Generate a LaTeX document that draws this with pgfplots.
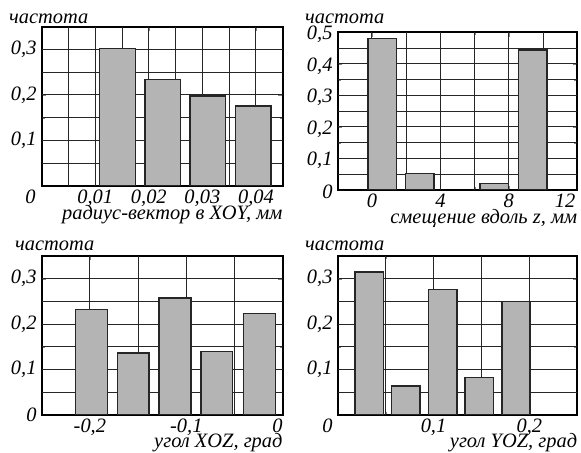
\documentclass[border=0pt]{standalone}
\usepackage{fontspec}
\setmainfont{Liberation Serif}
\usepackage{pgfplots}
\pgfplotsset{compat=1.18}
\definecolor{barfill}{RGB}{180,180,180}
\definecolor{ink}{RGB}{38,38,38}
\newcommand{\lblfont}{\fontsize{20.5}{22}\selectfont\itshape}
\pgfplotsset{
  panelax/.style={
    scale only axis,
    anchor=south west,
    grid=both,
    major grid style={draw=ink, line width=1bp},
    minor grid style={draw=ink, line width=1bp},
    axis line style={line width=1.8bp},
    scaled x ticks=false,
    tick label style={font=\lblfont},
    xticklabel style={anchor=north, inner sep=0pt, yshift=-4bp},
    yticklabel style={anchor=east, inner sep=0pt, xshift=-5bp},
    xlabel style={font=\lblfont, at={(rel axis cs:1,0)}, anchor=base east, inner sep=0pt},
    ylabel style={font=\lblfont, at={(rel axis cs:0,1)}, rotate=-90, anchor=base west, inner sep=0pt},
  },
  gridplot/.style={draw=ink, line width=1bp, mark=none, unbounded coords=jump, forget plot},
  histbar/.style={ybar, bar shift=0pt, fill=barfill, draw=ink, line width=1.5bp},
}
\begin{document}
\begin{tikzpicture}
\useasboundingbox (0,0) rectangle (581bp,453bp);
% top left
\begin{axis}[panelax, at={(41.7bp,267bp)}, width=241bp, height=159.3bp,
  xmin=0, xmax=0.045, ymin=0, ymax=0.35,
  xtick={0,0.01,0.02,0.03,0.04},
  xticklabels={{\llap{0\hspace{6bp}}},{0,01},{0,02},{0,03},{0,04}},
  minor xtick={0.005,0.015,0.025,0.035},
  ytick={0.1,0.2,0.3}, yticklabels={{0,1},{0,2},{0,3}},
  minor ytick={0.05,0.15,0.25},
  xlabel={радиус-вектор в XOY, мм}, ylabel={частота},
  xlabel style={yshift=-34bp}, ylabel style={xshift=-32.7bp, yshift=2.7bp}]
\addplot[gridplot] coordinates {(0.005,0) (0.005,0.35) (nan,nan) (0.01,0) (0.01,0.35) (nan,nan)
  (0.015,0) (0.015,0.35) (nan,nan) (0.02,0) (0.02,0.35) (nan,nan) (0.025,0) (0.025,0.35) (nan,nan)
  (0.03,0) (0.03,0.35) (nan,nan) (0.035,0) (0.035,0.35) (nan,nan) (0.04,0) (0.04,0.35)};
\addplot[gridplot] coordinates {(0,0.05) (0.045,0.05) (nan,nan) (0,0.1) (0.045,0.1) (nan,nan)
  (0,0.15) (0.045,0.15) (nan,nan) (0,0.2) (0.045,0.2) (nan,nan) (0,0.25) (0.045,0.25) (nan,nan)
  (0,0.3) (0.045,0.3)};
\addplot[histbar, bar width=0.00667] coordinates {(0.01415,0.302) (0.0226,0.234) (0.031,0.198) (0.0395,0.176)};
\end{axis}
% top right
\begin{axis}[panelax, at={(337.7bp,263bp)}, width=239.6bp, height=157.7bp,
  xmin=-2, xmax=12, ymin=0, ymax=0.5,
  xtick={0,4,8,12}, xticklabels={0,4,8,{\llap{12\hspace{2bp}}}},
  minor xtick={-2,2,6,10},
  ytick={0,0.1,0.2,0.3,0.4,0.5}, yticklabels={{0},{0,1},{0,2},{0,3},{0,4},{0,5}},
  minor ytick={0.05,0.15,0.25,0.35,0.45},
  yticklabel style={yshift=-2bp},
  xlabel={смещение вдоль z, мм}, ylabel={частота},
  xlabel style={yshift=-34bp}, ylabel style={xshift=-32.7bp, yshift=9bp}]
\addplot[gridplot] coordinates {(0,0) (0,0.5) (nan,nan) (2,0) (2,0.5) (nan,nan) (4,0) (4,0.5) (nan,nan)
  (6,0) (6,0.5) (nan,nan) (8,0) (8,0.5) (nan,nan) (10,0) (10,0.5)};
\addplot[gridplot] coordinates {(-2,0.05) (12,0.05) (nan,nan) (-2,0.1) (12,0.1) (nan,nan)
  (-2,0.15) (12,0.15) (nan,nan) (-2,0.2) (12,0.2) (nan,nan) (-2,0.25) (12,0.25) (nan,nan)
  (-2,0.3) (12,0.3) (nan,nan) (-2,0.35) (12,0.35) (nan,nan) (-2,0.4) (12,0.4) (nan,nan)
  (-2,0.45) (12,0.45)};
\addplot[histbar, bar width=1.68] coordinates {(0.6,0.481) (2.8,0.052) (7.14,0.021) (9.4,0.444)};
\end{axis}
% bottom left
\begin{axis}[panelax, at={(41.7bp,38bp)}, width=241bp, height=159bp,
  xmin=-0.25, xmax=0, ymin=0, ymax=0.35,
  xtick={-0.2,-0.1,0}, xticklabels={{-0,2},{-0,1},{\llap{0}}},
  minor xtick={-0.15,-0.05},
  ytick={0,0.1,0.2,0.3}, yticklabels={{0},{0,1},{0,2},{0,3}},
  minor ytick={0.05,0.15,0.25},
  xlabel={угол XOZ, град}, ylabel={частота},
  xlabel style={yshift=-32bp}, ylabel style={xshift=-26.7bp, yshift=6bp}]
\addplot[gridplot] coordinates {(-0.2,0) (-0.2,0.35) (nan,nan) (-0.15,0) (-0.15,0.35) (nan,nan)
  (-0.1,0) (-0.1,0.35) (nan,nan) (-0.05,0) (-0.05,0.35)};
\addplot[gridplot] coordinates {(-0.25,0.05) (0,0.05) (nan,nan) (-0.25,0.1) (0,0.1) (nan,nan)
  (-0.25,0.15) (0,0.15) (nan,nan) (-0.25,0.2) (0,0.2) (nan,nan) (-0.25,0.25) (0,0.25) (nan,nan)
  (-0.25,0.3) (0,0.3)};
\addplot[histbar, bar width=0.033] coordinates {(-0.1985,0.232) (-0.155,0.137) (-0.1116,0.258) (-0.0685,0.140) (-0.0242,0.223)};
\end{axis}
% bottom right
\begin{axis}[panelax, at={(337.7bp,38bp)}, width=239.6bp, height=159bp,
  xmin=0, xmax=0.25, ymin=0, ymax=0.35,
  xtick={0,0.1,0.2}, xticklabels={{\llap{0\hspace{5bp}}},{0,1},{0,2}},
  minor xtick={0.05,0.15},
  ytick={0.1,0.2,0.3}, yticklabels={{0,1},{0,2},{0,3}},
  minor ytick={0.05,0.15,0.25},
  xlabel={угол YOZ, град}, ylabel={частота},
  xlabel style={yshift=-32bp}, ylabel style={xshift=-32.7bp, yshift=6bp}]
\addplot[gridplot] coordinates {(0.05,0) (0.05,0.35) (nan,nan) (0.1,0) (0.1,0.35) (nan,nan)
  (0.15,0) (0.15,0.35) (nan,nan) (0.2,0) (0.2,0.35)};
\addplot[gridplot] coordinates {(0,0.05) (0.25,0.05) (nan,nan) (0,0.1) (0.25,0.1) (nan,nan)
  (0,0.15) (0.25,0.15) (nan,nan) (0,0.2) (0.25,0.2) (nan,nan) (0,0.25) (0.25,0.25) (nan,nan)
  (0,0.3) (0.25,0.3)};
\addplot[histbar, bar width=0.0295] coordinates {(0.0329,0.315) (0.0711,0.064) (0.1095,0.276) (0.1476,0.082) (0.186,0.250)};
\end{axis}
\end{tikzpicture}
\end{document}
